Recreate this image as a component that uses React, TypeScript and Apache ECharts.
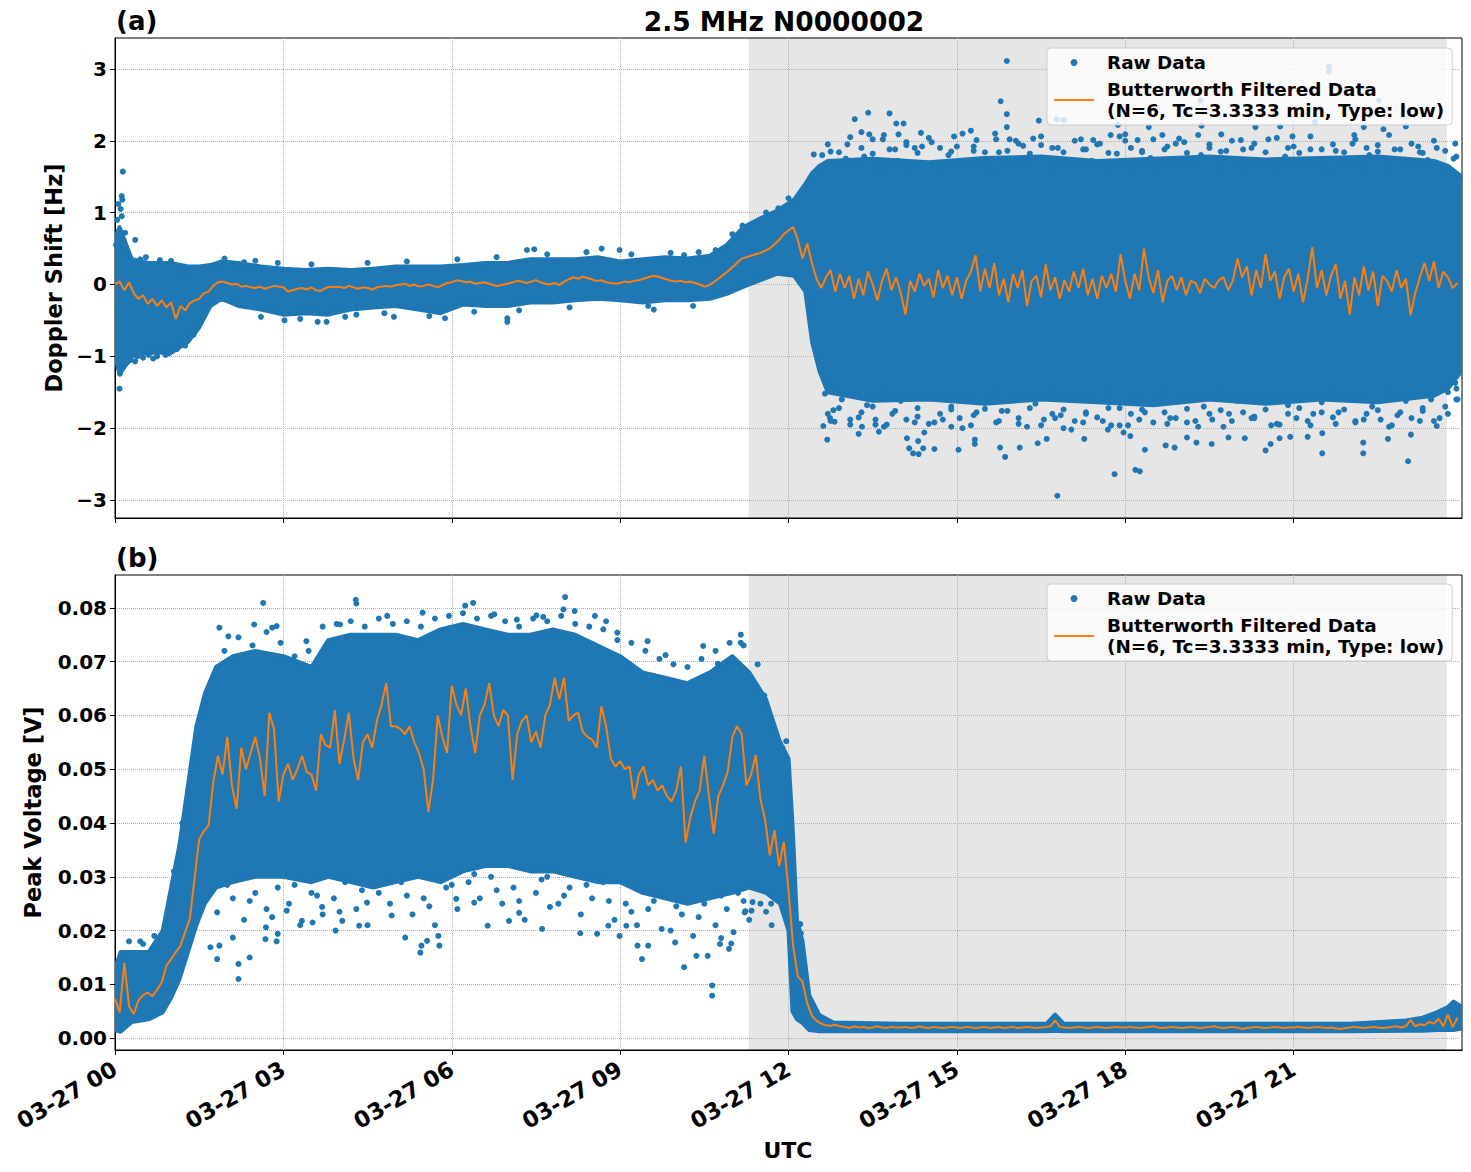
import React, { useEffect, useRef } from "react";
import * as echarts from "echarts";

const BLUE = "#1f77b4";
const ORANGE = "#ff7f0e";
const SHADE = "#e6e6e6";
const GRID_LINE = "#b0b0b0";
const FONT = "DejaVu Sans";

const TITLE = "2.5 MHz N0000002";
const RAW_NAME = "Raw Data";
const FILTER_NAME = "Butterworth Filtered Data\n(N=6, Tc=3.3333 min, Type: low)";

const HOUR_TICKS = [0, 3, 6, 9, 12, 15, 18, 21];
const DOPPLER_TICKS = [-3, -2, -1, 0, 1, 2, 3];
const VOLTAGE_TICKS = [0, 0.01, 0.02, 0.03, 0.04, 0.05, 0.06, 0.07, 0.08];
const DOPPLER_RANGE = [-3.25, 3.43];
const VOLTAGE_RANGE = [-0.0022, 0.0861];
// shaded interval, hours UTC
const SHADED_HOURS = [11.29, 23.73];

// filtered traces, one sample every 5 minutes (12 per hour, one row per hour)
const FILTER_STEP_HOURS = 5 / 60;

const dopplerFiltered = [
  0.0, 0.04, -0.08, 0.03, -0.12, -0.2, -0.15, -0.27, -0.2, -0.3, -0.22, -0.32,
  -0.25, -0.48, -0.3, -0.36, -0.26, -0.22, -0.2, -0.12, -0.1, -0.02, 0.03, 0.04,
  0.02, 0.0, 0.01, -0.03, -0.02, -0.04, -0.05, -0.03, -0.06, -0.04, -0.02, -0.03,
  -0.04, -0.1, -0.08, -0.06, -0.05, -0.07, -0.04, -0.08, -0.09, -0.05, -0.03, -0.04,
  -0.03, -0.05, -0.02, -0.04, -0.06, -0.04, -0.05, -0.07, -0.04, -0.03, -0.02, -0.03,
  -0.01, 0.0, 0.01, -0.02, 0.0, -0.03, -0.02, 0.0, -0.02, -0.04, -0.01, 0.02,
  0.03, 0.06, 0.05, 0.03, 0.04, 0.01, 0.02, 0.03, 0.01, -0.01, -0.02, 0.0,
  0.01, 0.03, 0.05, 0.04, 0.02, 0.04, 0.06, 0.03, 0.01, 0.0, 0.02, -0.01,
  0.04, 0.07, 0.1, 0.08, 0.11, 0.09, 0.07, 0.05, 0.06, 0.03, 0.02, 0.01,
  0.02, 0.04, 0.03, 0.05, 0.06, 0.08, 0.1, 0.12, 0.11, 0.09, 0.07, 0.05,
  0.04, 0.05, 0.03, 0.04, 0.02, 0.0, -0.03, -0.01, 0.03, 0.08, 0.13, 0.18,
  0.24, 0.3, 0.36, 0.38, 0.4, 0.42, 0.44, 0.47, 0.5, 0.56, 0.62, 0.7,
  0.75, 0.8, 0.62, 0.36, 0.57, 0.3, 0.08, -0.05, 0.1, 0.2, -0.1, 0.15,
  -0.05, 0.12, -0.2, 0.08, -0.15, 0.18, 0.0, -0.22, 0.05, 0.22, -0.08, 0.1,
  -0.12, -0.42, 0.05, -0.1, 0.15, -0.02, 0.08, -0.18, 0.2, -0.05, 0.12, -0.15,
  0.1, -0.2, 0.05, 0.18, 0.41, -0.1, 0.22, -0.05, 0.3, -0.15, 0.08, -0.25,
  0.15, -0.05, 0.2, -0.3, 0.05, 0.12, -0.18, 0.28, -0.08, 0.1, -0.2, 0.06,
  -0.1, 0.18, -0.05, 0.22, -0.15, 0.08, -0.2, 0.12, -0.05, 0.15, -0.1, 0.42,
  0.05, -0.2, 0.15, -0.08, 0.5, 0.1, -0.12, 0.2, -0.25, 0.05, 0.12, -0.08,
  0.1, -0.15, 0.05, 0.02, -0.12, 0.08, 0.0, -0.05, 0.06, 0.1, -0.08, 0.05,
  0.36, 0.1, 0.25, -0.15, 0.2, -0.05, 0.42, 0.05, 0.18, -0.2, 0.1, 0.22,
  -0.1, 0.15, -0.25, 0.08, 0.52, -0.05, 0.2, -0.15, 0.12, 0.28, -0.2, 0.05,
  -0.42, 0.1, -0.15, 0.25, -0.08, 0.18, -0.3, 0.12, 0.05, -0.1, 0.2, -0.05,
  0.08, -0.43, -0.12, 0.1, 0.3, 0.05, 0.32, -0.05, 0.18, 0.1, -0.05, 0.02,
];

const voltageFiltered = [
  0.0073, 0.0048, 0.014, 0.006, 0.0045, 0.007, 0.008, 0.0085, 0.0078, 0.009, 0.0104, 0.0135,
  0.0147, 0.016, 0.0172, 0.0197, 0.0222, 0.0296, 0.037, 0.0385, 0.0395, 0.0475, 0.0525, 0.049,
  0.056, 0.047, 0.0426, 0.054, 0.05, 0.053, 0.056, 0.052, 0.045, 0.0605, 0.0575, 0.044,
  0.049, 0.051, 0.048, 0.05, 0.0525, 0.0495, 0.049, 0.046, 0.0565, 0.0545, 0.054, 0.061,
  0.051, 0.0555, 0.0605, 0.052, 0.048, 0.055, 0.0565, 0.054, 0.059, 0.062, 0.066, 0.058,
  0.058, 0.0575, 0.0565, 0.058, 0.055, 0.053, 0.05, 0.042, 0.048, 0.06, 0.056, 0.053,
  0.0655, 0.062, 0.06, 0.065, 0.058, 0.053, 0.06, 0.062, 0.066, 0.06, 0.058, 0.061,
  0.06, 0.048, 0.0565, 0.059, 0.06, 0.055, 0.057, 0.054, 0.06, 0.062, 0.067, 0.063,
  0.067, 0.059, 0.06, 0.0605, 0.057, 0.056, 0.0555, 0.054, 0.0617, 0.058, 0.052, 0.0505,
  0.0515, 0.05, 0.0505, 0.0444, 0.049, 0.0505, 0.047, 0.048, 0.046, 0.047, 0.045, 0.044,
  0.046, 0.0505, 0.0364, 0.041, 0.044, 0.046, 0.0525, 0.045, 0.038, 0.045, 0.047, 0.0495,
  0.056, 0.058, 0.0565, 0.047, 0.049, 0.0526, 0.0444, 0.0406, 0.034, 0.0387, 0.032, 0.0365,
  0.0275, 0.017, 0.0115, 0.0105, 0.0065, 0.0042, 0.0032, 0.0027, 0.0024, 0.0023, 0.0025, 0.0022,
  0.0021, 0.0019, 0.0022, 0.002, 0.0021, 0.0019, 0.002, 0.0022, 0.002, 0.0019, 0.0021, 0.002,
  0.002, 0.0021, 0.0019, 0.002, 0.0022, 0.002, 0.0019, 0.0021, 0.002, 0.0019, 0.002, 0.0021,
  0.002, 0.0019, 0.0021, 0.002, 0.0019, 0.002, 0.0021, 0.0019, 0.002, 0.0021, 0.0019, 0.002,
  0.0021, 0.0019, 0.002, 0.0021, 0.002, 0.0019, 0.002, 0.0021, 0.0022, 0.0033, 0.0021, 0.002,
  0.0019, 0.002, 0.0021, 0.002, 0.0019, 0.002, 0.0021, 0.002, 0.0019, 0.002, 0.0021, 0.002,
  0.002, 0.0021, 0.002, 0.0019, 0.002, 0.0021, 0.0022, 0.002, 0.0019, 0.002, 0.0021, 0.002,
  0.0019, 0.002, 0.0021, 0.002, 0.0019, 0.002, 0.0021, 0.0022, 0.002, 0.0019, 0.002, 0.0021,
  0.002, 0.0017, 0.0019, 0.002, 0.0021, 0.002, 0.0019, 0.002, 0.0021, 0.002, 0.0019, 0.002,
  0.002, 0.0021, 0.002, 0.0019, 0.002, 0.0021, 0.002, 0.0019, 0.002, 0.0018, 0.0017, 0.0019,
  0.002, 0.0021, 0.002, 0.0019, 0.002, 0.0021, 0.002, 0.0019, 0.002, 0.0021, 0.0022, 0.002,
  0.0022, 0.0034, 0.0022, 0.0026, 0.0024, 0.003, 0.0027, 0.0036, 0.0022, 0.0044, 0.002, 0.0038,
];

// dense body of the raw samples: lower / upper edge at the listed hours
const dopplerCoreHours = [
  0, 0.08, 0.3, 0.6, 1.0, 1.3, 1.5, 1.7, 1.9, 2.2, 2.6, 3.0, 3.4, 3.8, 4.2, 4.6, 5.0, 5.4,
  5.8, 6.2, 6.6, 7.0, 7.4, 7.8, 8.2, 8.6, 9.0, 9.4, 9.8, 10.2, 10.6, 10.9, 11.2, 11.5, 11.8,
  12.1, 12.3, 12.42, 12.55, 12.7, 13.5, 14.5, 15.5, 16.5, 17.5, 18.5, 19.5, 20.5, 21.5, 22.5,
  23.5, 23.75, 24,
];
const dopplerCoreLow = [
  -1.0, -1.25, -1.0, -0.95, -0.95, -0.8, -0.6, -0.3, -0.2, -0.3, -0.35, -0.42, -0.4, -0.42,
  -0.35, -0.32, -0.3, -0.35, -0.4, -0.28, -0.3, -0.3, -0.25, -0.25, -0.22, -0.2, -0.22, -0.25,
  -0.22, -0.22, -0.2, -0.13, -0.03, 0.06, 0.15, 0.12, -0.1, -0.8, -1.2, -1.5, -1.62, -1.6,
  -1.66, -1.6, -1.64, -1.68, -1.6, -1.66, -1.6, -1.64, -1.55, -1.45, -1.2,
];
const dopplerCoreHigh = [
  0.65, 0.8, 0.35, 0.3, 0.3, 0.25, 0.25, 0.27, 0.32, 0.3, 0.25, 0.22, 0.2, 0.22, 0.2, 0.22,
  0.25, 0.25, 0.25, 0.27, 0.3, 0.3, 0.35, 0.35, 0.35, 0.38, 0.32, 0.35, 0.38, 0.36, 0.4, 0.55,
  0.8, 0.92, 1.03, 1.18, 1.4, 1.55, 1.65, 1.72, 1.75, 1.7, 1.76, 1.78, 1.72, 1.75, 1.78, 1.74,
  1.76, 1.78, 1.72, 1.65, 1.5,
];

const voltageCoreHours = [
  0, 0.1, 0.3, 0.6, 0.85, 1.0, 1.15, 1.3, 1.45, 1.6, 1.8, 2.1, 2.5, 3.0, 3.5, 3.8, 4.2, 4.6,
  5.0, 5.4, 5.8, 6.2, 6.6, 7.0, 7.4, 7.8, 8.2, 8.6, 9.0, 9.4, 9.8, 10.2, 10.6, 11.0, 11.3,
  11.6, 11.85, 12.0, 12.07, 12.15, 12.25, 12.37, 12.55, 12.8, 14, 16, 16.6, 16.75, 16.9, 18,
  20, 22, 23, 23.3, 23.55, 23.75, 23.85, 24,
];
const voltageCoreLow = [
  0.0015, 0.0012, 0.003, 0.0035, 0.0048, 0.0075, 0.011, 0.016, 0.021, 0.025, 0.028, 0.029,
  0.03, 0.03, 0.029, 0.03, 0.029, 0.028, 0.029, 0.03, 0.029, 0.031, 0.032, 0.032, 0.031,
  0.031, 0.03, 0.029, 0.029, 0.027, 0.026, 0.025, 0.026, 0.027, 0.028, 0.027, 0.025, 0.02,
  0.005, 0.0035, 0.0028, 0.0015, 0.0013, 0.0013, 0.0013, 0.0013, 0.0013, 0.0014, 0.0013,
  0.0013, 0.0013, 0.0013, 0.0014, 0.0014, 0.0015, 0.0015, 0.0015, 0.0018,
];
const voltageCoreHigh = [
  0.013, 0.016, 0.016, 0.016, 0.02, 0.028, 0.036, 0.047, 0.058, 0.064, 0.069, 0.071, 0.072,
  0.071, 0.069, 0.074, 0.075, 0.075, 0.075, 0.074, 0.076, 0.077, 0.076, 0.075, 0.075, 0.076,
  0.075, 0.073, 0.071, 0.068, 0.067, 0.066, 0.068, 0.071, 0.068, 0.063, 0.055, 0.052, 0.04,
  0.022, 0.018, 0.008, 0.0043, 0.0029, 0.0027, 0.0027, 0.0027, 0.0044, 0.0027, 0.0027,
  0.0027, 0.0027, 0.0033, 0.0038, 0.0048, 0.0058, 0.0068, 0.0058,
];

// scattered raw samples outside the dense body: [hour, Hz]
const dopplerScatter: [number, number][] = [
  [0.02, 0.55], [0.04, 0.9], [0.06, 1.12], [0.1, 1.05], [0.12, 1.23], [0.13, 1.18], [0.12, 0.95],
  [0.14, 1.57], [0.18, 0.72], [0.2, 0.45], [0.36, 0.62], [0.05, -1.1], [0.08, -1.45], [0.09, -1.24],
  [0.14, -1.14], [0.22, -1.08], [0.28, -1.05], [0.36, -1.07], [0.5, -1.02], [0.68, -1.03],
  [0.96, -0.96], [1.1, -0.9], [0.55, 0.38], [0.8, 0.34], [1.2, 0.15], [1.95, 0.36], [2.3, 0.31],
  [0.4, -1.0], [0.6, -0.98], [0.75, -1.0], [0.9, -0.98], [1.25, -0.85], [1.4, -0.7], [1.0, 0.33],
  [0.45, 0.35],
  [2.6, -0.45], [3.02, -0.5], [3.61, -0.52], [3.77, -0.52], [4.3, -0.42], [4.97, -0.45],
  [5.88, -0.47], [6.99, -0.52], [6.99, -0.47], [7.34, 0.48], [7.47, 0.49], [8.67, 0.5],
  [8.99, 0.48], [9.6, -0.35], [10.14, 0.41], [10.4, 0.45], [11.0, 0.7], [11.18, 0.82],
  [11.6, 1.0], [11.82, 1.06], [12.0, 1.2],
  [2.5, 0.33], [2.9, 0.3], [3.3, -0.48], [3.5, 0.28], [4.1, -0.45], [4.5, 0.3], [4.8, -0.4],
  [5.2, 0.32], [5.6, -0.44], [6.1, 0.35], [6.4, -0.38], [6.8, 0.38], [7.2, -0.36], [7.7, 0.42],
  [8.1, -0.32], [8.4, 0.45], [9.2, 0.42], [9.5, -0.3], [9.9, 0.44], [10.3, -0.3], [10.7, 0.48],
  [12.45, 1.81], [12.6, 1.8], [13.02, 1.75], [13.04, 1.65], [13.18, 2.3], [13.3, 2.12],
  [13.42, 2.39], [13.44, 2.09], [13.68, 2.02], [13.8, 2.38], [13.92, 2.24], [13.96, 2.09],
  [14.05, 2.24], [14.1, 1.94], [14.36, 2.11], [14.38, 1.92], [14.95, 2.06], [15.25, 2.14],
  [15.35, 2.01], [15.68, 2.1], [15.78, 2.55], [15.89, 3.11], [15.89, 2.37], [15.89, 2.19],
  [15.94, 2.02], [16.18, 1.93], [16.36, 2.03], [16.46, 2.28], [16.78, 2.3], [16.9, 2.29],
  [17.21, 2.02], [17.43, 2.01], [17.74, 2.08], [17.87, 2.22], [18.0, 2.09], [18.22, 2.01],
  [18.42, 2.19], [18.66, 2.08], [18.96, 2.03], [19.34, 2.56], [19.36, 2.21], [19.71, 2.09],
  [20.06, 2.01], [20.32, 2.19], [20.76, 2.2], [20.98, 2.06], [21.38, 2.26], [21.63, 3.03],
  [21.63, 2.96], [22.08, 2.08], [22.25, 2.19], [22.52, 2.56], [22.6, 2.16], [23.0, 2.2],
  [23.22, 1.92], [23.39, 1.73], [23.88, 1.96], [23.96, 1.5],
  [12.62, -1.97], [12.69, -2.16], [12.74, -1.86], [12.82, -1.91], [13.25, -2.08], [13.31, -1.98],
  [13.61, -2.05], [13.55, -1.88], [14.11, -2.14], [14.15, -2.28], [14.22, -2.35], [14.32, -2.36],
  [14.31, -2.18], [14.4, -2.28], [14.42, -2.06], [14.6, -2.29], [14.9, -1.98], [15.03, -2.3],
  [15.32, -2.16], [15.32, -2.22], [15.77, -2.27], [15.86, -2.4], [16.12, -2.27], [16.44, -2.21],
  [16.6, -2.15], [16.79, -2.94], [16.9, -2.0], [17.04, -2.02], [17.27, -2.15], [17.69, -2.02],
  [17.81, -2.64], [17.97, -2.06], [18.09, -2.11], [18.18, -2.58], [18.26, -2.6], [18.35, -2.3],
  [18.72, -2.24], [18.88, -2.27], [19.1, -2.13], [19.27, -2.2], [19.54, -2.22], [19.84, -2.13],
  [20.13, -2.14], [20.5, -2.31], [20.59, -2.22], [20.75, -2.14], [20.94, -2.12], [21.25, -2.12],
  [21.51, -2.35], [21.51, -2.07], [22.24, -2.2], [22.24, -2.35], [22.68, -2.15], [23.04, -2.46],
  [23.09, -2.09], [23.55, -1.97], [23.88, -1.37], [23.92, -1.6],
  [12.6, 1.62], [12.75, 1.85], [12.9, 1.7], [13.05, 1.95], [13.2, 1.66], [13.35, 1.78],
  [13.5, 2.02], [13.65, 1.6], [13.8, 1.88], [13.95, 1.72], [14.1, 1.64], [14.25, 1.9],
  [14.4, 1.68], [14.55, 1.98], [14.7, 1.62], [14.85, 1.8], [15.0, 1.92], [15.15, 1.66],
  [15.3, 1.86], [15.45, 1.74], [15.6, 1.6], [15.75, 1.84], [15.9, 1.7], [16.05, 2.0],
  [16.2, 1.64], [16.35, 1.76], [16.5, 1.94], [16.65, 1.62], [16.8, 1.9], [16.95, 1.7],
  [17.1, 1.66], [17.25, 1.88], [17.4, 1.72], [17.55, 1.96], [17.7, 1.6], [17.85, 1.82],
  [18.0, 2.0], [18.15, 1.64], [18.3, 1.86], [18.45, 1.76], [18.6, 1.62], [18.75, 1.92],
  [18.9, 1.68], [19.05, 1.98], [19.2, 1.66], [19.35, 1.8], [19.5, 1.95], [19.65, 1.6],
  [19.8, 1.86], [19.95, 1.72], [20.1, 1.64], [20.25, 1.9], [20.4, 1.7], [20.55, 2.02],
  [20.7, 1.62], [20.85, 1.78], [21.0, 1.92], [21.15, 1.66], [21.3, 1.88], [21.45, 1.74],
  [21.6, 1.6], [21.75, 1.86], [21.9, 1.7], [22.05, 1.96], [22.2, 1.64], [22.35, 1.8],
  [22.5, 1.94], [22.65, 1.62], [22.8, 1.88], [22.95, 1.72], [23.1, 1.66], [23.25, 1.84],
  [23.4, 1.7], [23.55, 1.9], [23.7, 1.6], [23.85, 1.75],
  [12.7, 1.95], [12.9, 1.84], [13.1, 2.05], [13.3, 1.9], [13.5, 1.82], [13.7, 2.08],
  [13.9, 1.88], [14.1, 1.98], [14.3, 1.83], [14.5, 2.04], [14.7, 1.9], [14.9, 1.85],
  [15.1, 2.1], [15.3, 1.92], [15.5, 1.84], [15.7, 2.02], [15.9, 1.86], [16.1, 1.96],
  [16.3, 1.82], [16.5, 2.06], [16.7, 1.9], [16.9, 1.84], [17.1, 2.0], [17.3, 1.88],
  [17.5, 1.95], [17.7, 1.83], [17.9, 2.06], [18.1, 1.9], [18.3, 1.84], [18.5, 2.02],
  [18.7, 1.88], [18.9, 1.96], [19.1, 1.83], [19.3, 2.08], [19.5, 1.9], [19.7, 1.85],
  [19.9, 2.0], [20.1, 1.88], [20.3, 1.96], [20.5, 1.84], [20.7, 2.04], [20.9, 1.9],
  [21.1, 1.83], [21.3, 2.06], [21.5, 1.88], [21.7, 1.95], [21.9, 1.84], [22.1, 2.02],
  [22.3, 1.9], [22.5, 1.85], [22.7, 2.08], [22.9, 1.88], [23.1, 1.96], [23.3, 1.83],
  [23.5, 2.0], [23.7, 1.86], [23.9, 1.78],
  [12.65, -1.52], [12.8, -1.75], [12.95, -1.6], [13.1, -1.88], [13.25, -1.55], [13.4, -1.68],
  [13.55, -1.95], [13.7, -1.5], [13.85, -1.8], [14.0, -1.62], [14.15, -1.54], [14.3, -1.84],
  [14.45, -1.58], [14.6, -1.92], [14.75, -1.52], [14.9, -1.7], [15.05, -1.86], [15.2, -1.56],
  [15.35, -1.78], [15.5, -1.64], [15.65, -1.5], [15.8, -1.76], [15.95, -1.6], [16.1, -1.94],
  [16.25, -1.54], [16.4, -1.66], [16.55, -1.88], [16.7, -1.52], [16.85, -1.82], [17.0, -1.6],
  [17.15, -1.56], [17.3, -1.8], [17.45, -1.62], [17.6, -1.9], [17.75, -1.5], [17.9, -1.72],
  [18.05, -1.96], [18.2, -1.54], [18.35, -1.78], [18.5, -1.66], [18.65, -1.52], [18.8, -1.86],
  [18.95, -1.58], [19.1, -1.92], [19.25, -1.56], [19.4, -1.7], [19.55, -1.88], [19.7, -1.5],
  [19.85, -1.8], [20.0, -1.62], [20.15, -1.54], [20.3, -1.84], [20.45, -1.6], [20.6, -1.96],
  [20.75, -1.52], [20.9, -1.68], [21.05, -1.86], [21.2, -1.56], [21.35, -1.8], [21.5, -1.64],
  [21.65, -1.5], [21.8, -1.78], [21.95, -1.6], [22.1, -1.9], [22.25, -1.54], [22.4, -1.7],
  [22.55, -1.88], [22.7, -1.52], [22.85, -1.82], [23.0, -1.62], [23.15, -1.56], [23.3, -1.76],
  [23.45, -1.6], [23.6, -1.86], [23.75, -1.5], [23.9, -1.45],
  [12.7, -1.8], [12.9, -1.72], [13.1, -1.95], [13.3, -1.78], [13.5, -1.7], [13.7, -1.98],
  [13.9, -1.76], [14.1, -1.88], [14.3, -1.72], [14.5, -1.94], [14.7, -1.8], [14.9, -1.74],
  [15.1, -2.0], [15.3, -1.82], [15.5, -1.73], [15.7, -1.92], [15.9, -1.76], [16.1, -1.86],
  [16.3, -1.72], [16.5, -1.96], [16.7, -1.8], [16.9, -1.74], [17.1, -1.9], [17.3, -1.78],
  [17.5, -1.85], [17.7, -1.72], [17.9, -1.96], [18.1, -1.8], [18.3, -1.74], [18.5, -1.92],
  [18.7, -1.78], [18.9, -1.86], [19.1, -1.73], [19.3, -1.98], [19.5, -1.8], [19.7, -1.75],
  [19.9, -1.9], [20.1, -1.78], [20.3, -1.86], [20.5, -1.74], [20.7, -1.94], [20.9, -1.8],
  [21.1, -1.72], [21.3, -1.96], [21.5, -1.78], [21.7, -1.85], [21.9, -1.74], [22.1, -1.92],
  [22.3, -1.8], [22.5, -1.75], [22.7, -1.98], [22.9, -1.78], [23.1, -1.86], [23.3, -1.72],
  [23.5, -1.9], [23.7, -1.7], [23.9, -1.6],
  [12.75, -1.9], [13.25, -1.85], [13.75, -1.95], [14.25, -1.92], [14.75, -1.88], [15.25, -1.96],
  [15.75, -1.9], [16.25, -1.98], [16.75, -1.86], [17.25, -1.92], [17.75, -1.96], [18.25, -1.88],
  [18.75, -1.94], [19.25, -1.9], [19.75, -1.98], [20.25, -1.86], [20.75, -1.95], [21.25, -1.9],
  [21.75, -1.94], [22.25, -1.88], [22.75, -1.96], [23.25, -1.9], [23.75, -1.8],
];

// scattered raw samples outside the dense body: [hour, V]
const voltageScatter: [number, number][] = [
  [0.25, 0.018], [0.45, 0.018], [0.5, 0.0175], [0.7, 0.019], [1.05, 0.031], [1.2, 0.04],
  [1.86, 0.0763], [2.02, 0.0747], [2.48, 0.0769], [2.64, 0.0809], [2.8, 0.0763], [2.88, 0.0766],
  [3.41, 0.0738], [4.01, 0.0769], [4.29, 0.0815], [4.3, 0.0808], [4.85, 0.0785], [5.48, 0.0791],
  [6.24, 0.0804], [6.38, 0.0809], [6.76, 0.0788], [7.16, 0.0778], [7.51, 0.0786], [7.63, 0.0783],
  [8.02, 0.082], [7.99, 0.0797], [8.19, 0.0794], [8.55, 0.0785], [8.75, 0.0775], [8.95, 0.0754],
  [9.49, 0.0738], [9.81, 0.0712], [10.48, 0.0729], [10.74, 0.0696], [11.15, 0.075],
  [11.15, 0.0735], [11.57, 0.0637], [11.84, 0.0549], [11.96, 0.0552], [11.89, 0.054],
  [1.95, 0.072], [2.2, 0.0745], [2.45, 0.073], [2.7, 0.0755], [2.95, 0.0735], [3.2, 0.071],
  [3.45, 0.072], [3.7, 0.0765], [3.95, 0.077], [4.2, 0.0775], [4.45, 0.0765], [4.7, 0.078],
  [4.95, 0.077], [5.2, 0.0775], [5.45, 0.0765], [5.7, 0.078], [5.95, 0.0785], [6.2, 0.079],
  [6.45, 0.078], [6.7, 0.0785], [6.95, 0.0775], [7.2, 0.0765], [7.45, 0.078], [7.7, 0.0775],
  [7.95, 0.0785], [8.2, 0.077], [8.45, 0.0765], [8.7, 0.076], [8.95, 0.074], [9.2, 0.0735],
  [9.45, 0.072], [9.7, 0.0705], [9.95, 0.0695], [10.2, 0.069], [10.45, 0.0705], [10.7, 0.072],
  [10.95, 0.0735], [11.2, 0.073], [11.45, 0.0695],
  [1.82, 0.0147], [2.2, 0.011], [2.2, 0.0138], [2.4, 0.015], [1.86, 0.0172], [1.7, 0.0169],
  [1.82, 0.0234], [2.1, 0.0187], [2.68, 0.0184], [2.69, 0.0206], [2.88, 0.018], [2.9, 0.0194],
  [3.06, 0.0237], [3.33, 0.0218], [3.52, 0.0215], [3.69, 0.0244], [3.93, 0.02], [4.05, 0.0218],
  [4.35, 0.0209], [4.49, 0.0252], [4.93, 0.0228], [5.17, 0.0187], [5.44, 0.0159], [5.46, 0.0172],
  [5.56, 0.0181], [5.78, 0.0172], [5.76, 0.019], [6.08, 0.0259], [6.4, 0.0252], [6.64, 0.0209],
  [7.02, 0.0218], [7.2, 0.0233], [7.61, 0.0203], [7.75, 0.0244], [8.29, 0.0195], [8.59, 0.0194],
  [8.79, 0.0209], [8.99, 0.019], [9.11, 0.0209], [9.31, 0.0172], [9.39, 0.0147], [9.5, 0.0172],
  [9.74, 0.0203], [9.98, 0.0178], [10.14, 0.0132], [10.36, 0.0153], [10.56, 0.0153],
  [10.64, 0.0098], [10.64, 0.0079], [10.78, 0.0175], [10.94, 0.0166], [11.02, 0.0197],
  [11.22, 0.0234], [11.34, 0.0237], [10.8, 0.0186], [10.98, 0.0176], [11.23, 0.0236],
  [11.36, 0.0253], [11.69, 0.025], [12.21, 0.0212], [12.22, 0.0195],
  [2.1, 0.026], [2.3, 0.022], [2.5, 0.027], [2.7, 0.024], [2.9, 0.028], [3.1, 0.025],
  [3.3, 0.021], [3.5, 0.027], [3.7, 0.023], [3.9, 0.026], [4.1, 0.029], [4.3, 0.024],
  [4.5, 0.021], [4.7, 0.027], [4.9, 0.025], [5.1, 0.029], [5.3, 0.023], [5.5, 0.026],
  [5.7, 0.021], [5.9, 0.028], [6.1, 0.024], [6.3, 0.029], [6.5, 0.026], [6.7, 0.03],
  [6.9, 0.025], [7.1, 0.028], [7.3, 0.022], [7.5, 0.027], [7.7, 0.03], [7.9, 0.025],
  [8.1, 0.028], [8.3, 0.023], [8.5, 0.026], [8.7, 0.029], [8.9, 0.022], [9.1, 0.025],
  [9.3, 0.021], [9.5, 0.024], [9.7, 0.027], [9.9, 0.02], [10.1, 0.023], [10.3, 0.019],
  [10.5, 0.025], [10.7, 0.021], [10.9, 0.024], [11.1, 0.027], [11.3, 0.022], [11.5, 0.025],
  [11.7, 0.021], [11.85, 0.026],
  [2.0, 0.0285], [2.4, 0.0255], [2.8, 0.0225], [3.2, 0.0285], [3.6, 0.0265], [4.0, 0.0235],
  [4.4, 0.0275], [4.8, 0.0295], [5.2, 0.0265], [5.6, 0.0245], [6.0, 0.0285], [6.4, 0.0305],
  [6.8, 0.0275], [7.2, 0.0255], [7.6, 0.0295], [8.0, 0.0265], [8.4, 0.0285], [8.8, 0.0255],
  [9.2, 0.0235], [9.6, 0.0255], [10.0, 0.0245], [10.4, 0.0225], [10.8, 0.0265], [11.2, 0.0255],
  [11.6, 0.0235],
];

const AXIS_FONT = { fontFamily: FONT, fontWeight: "bold" as const, color: "#000" };

function formatHour(h: number) {
  return "03-27 " + String(h).padStart(2, "0");
}

function formatDoppler(v: number) {
  return v < 0 ? "\u2212" + Math.abs(v) : String(v);
}

function xAxisFor(gridIndex: number, showLabels: boolean) {
  return {
    type: "value",
    gridIndex,
    min: 0,
    max: 24,
    axisLine: { show: true, onZero: false, lineStyle: { color: "#000", width: 1 } },
    axisTick: { show: true, customValues: HOUR_TICKS, length: 5, lineStyle: { color: "#000" } },
    axisLabel: {
      show: showLabels,
      customValues: HOUR_TICKS,
      formatter: formatHour,
      rotate: 30,
      margin: 17,
      fontSize: 22.5,
      ...AXIS_FONT,
    },
    splitLine: { show: true, lineStyle: { type: "dotted", color: GRID_LINE, width: 1 } },
  };
}

function yAxisFor(gridIndex: number, range: number[], ticks: number[], fmt: (v: number) => string, name: string, nameGap: number) {
  return {
    type: "value",
    gridIndex,
    min: range[0],
    max: range[1],
    name,
    nameLocation: "middle",
    nameGap,
    nameTextStyle: { fontSize: 22.5, ...AXIS_FONT },
    axisLine: { show: true, onZero: false, lineStyle: { color: "#000", width: 1 } },
    axisTick: { show: true, customValues: ticks, length: 5, lineStyle: { color: "#000" } },
    axisLabel: { customValues: ticks, formatter: fmt, margin: 8, fontSize: 20, ...AXIS_FONT },
    splitLine: { show: true, lineStyle: { type: "dotted", color: GRID_LINE, width: 1 } },
  };
}

function shadeSeries(idx: number, range: number[]) {
  return {
    type: "custom",
    name: "shade" + idx,
    xAxisIndex: idx,
    yAxisIndex: idx,
    z: -1,
    silent: true,
    data: [[SHADED_HOURS[0], range[0]]],
    renderItem: (_p: any, api: any) => {
      const a = api.coord([SHADED_HOURS[0], range[1]]);
      const b = api.coord([SHADED_HOURS[1], range[0]]);
      return {
        type: "rect",
        shape: { x: a[0], y: a[1], width: b[0] - a[0], height: b[1] - a[1] },
        style: { fill: SHADE },
      };
    },
  };
}

function coreSeries(idx: number, hours: number[], low: number[], high: number[]) {
  return {
    type: "custom",
    name: "core" + idx,
    xAxisIndex: idx,
    yAxisIndex: idx,
    z: 2,
    silent: true,
    clip: true,
    data: [[hours[0], low[0]]],
    renderItem: (_p: any, api: any) => {
      const pts: number[][] = [];
      for (let i = 0; i < hours.length; i++) pts.push(api.coord([hours[i], high[i]]));
      for (let i = hours.length - 1; i >= 0; i--) pts.push(api.coord([hours[i], low[i]]));
      return {
        type: "polygon",
        shape: { points: pts },
        style: { fill: BLUE, stroke: BLUE, lineWidth: 4, lineJoin: "round" },
      };
    },
  };
}

function scatterSeries(idx: number, pts: [number, number][]) {
  return {
    type: "scatter",
    name: RAW_NAME,
    xAxisIndex: idx,
    yAxisIndex: idx,
    z: 2,
    symbol: "circle",
    symbolSize: 6,
    clip: true,
    itemStyle: { color: BLUE, opacity: 1 },
    data: pts,
  };
}

function filteredSeries(idx: number, values: number[]) {
  return {
    type: "line",
    name: FILTER_NAME,
    xAxisIndex: idx,
    yAxisIndex: idx,
    z: 3,
    symbol: "none",
    showSymbol: false,
    clip: true,
    lineStyle: { color: ORANGE, width: 2 },
    itemStyle: { color: ORANGE },
    data: values.map((v, i) => [i * FILTER_STEP_HOURS, v]),
  };
}

function legendAt(top: number) {
  return {
    show: true,
    orient: "vertical",
    left: 1047,
    top,
    padding: [4, 8, 4, 6],
    itemGap: 6,
    itemWidth: 40,
    itemHeight: 7,
    backgroundColor: "rgba(255,255,255,0.8)",
    borderColor: "#cccccc",
    borderWidth: 1,
    borderRadius: 4,
    selectedMode: false,
    textStyle: { fontFamily: FONT, fontSize: 18.4, fontWeight: "bold", color: "#000", lineHeight: 21, padding: [0, 0, 0, 8] },
    data: [
      { name: RAW_NAME, icon: "circle" },
      { name: FILTER_NAME, itemStyle: { opacity: 0 } },
    ],
  };
}

function textAt(text: string, x: number, y: number, size: number, align: string) {
  return {
    type: "text",
    x,
    y,
    silent: true,
    style: { text, fontSize: size, fontWeight: "bold", fontFamily: FONT, fill: "#000", align, verticalAlign: "middle" },
  };
}

function buildOption() {
  return {
    animation: false,
    backgroundColor: "#fff",
    grid: [
      { left: 115, top: 38, width: 1347, height: 480, show: true, borderColor: "#000", borderWidth: 1, backgroundColor: "transparent" },
      { left: 115, top: 575, width: 1347, height: 475, show: true, borderColor: "#000", borderWidth: 1, backgroundColor: "transparent" },
    ],
    xAxis: [xAxisFor(0, false), xAxisFor(1, true)],
    yAxis: [
      yAxisFor(0, DOPPLER_RANGE, DOPPLER_TICKS, formatDoppler, "Doppler Shift [Hz]", 50),
      yAxisFor(1, VOLTAGE_RANGE, VOLTAGE_TICKS, (v: number) => v.toFixed(2), "Peak Voltage [V]", 71),
    ],
    legend: [legendAt(48), legendAt(584)],
    graphic: [
      textAt(TITLE, 784, 21, 26.5, "center"),
      textAt("(a)", 116, 21, 26, "left"),
      textAt("(b)", 116, 558, 26, "left"),
      textAt("UTC", 788, 1150, 22, "center"),
    ],
    series: [
      shadeSeries(0, DOPPLER_RANGE),
      shadeSeries(1, VOLTAGE_RANGE),
      scatterSeries(0, dopplerScatter),
      coreSeries(0, dopplerCoreHours, dopplerCoreLow, dopplerCoreHigh),
      filteredSeries(0, dopplerFiltered),
      scatterSeries(1, voltageScatter),
      coreSeries(1, voltageCoreHours, voltageCoreLow, voltageCoreHigh),
      filteredSeries(1, voltageFiltered),
    ],
  };
}

export default function App() {
  const ref = useRef<HTMLDivElement>(null);
  useEffect(() => {
    if (!ref.current) return;
    const chart = echarts.init(ref.current, undefined, { renderer: "svg" });
    chart.setOption(buildOption() as any);
    return () => chart.dispose();
  }, []);
  return <div ref={ref} style={{ position: "absolute", left: 0, top: 0, width: 1471, height: 1172 }} />;
}
